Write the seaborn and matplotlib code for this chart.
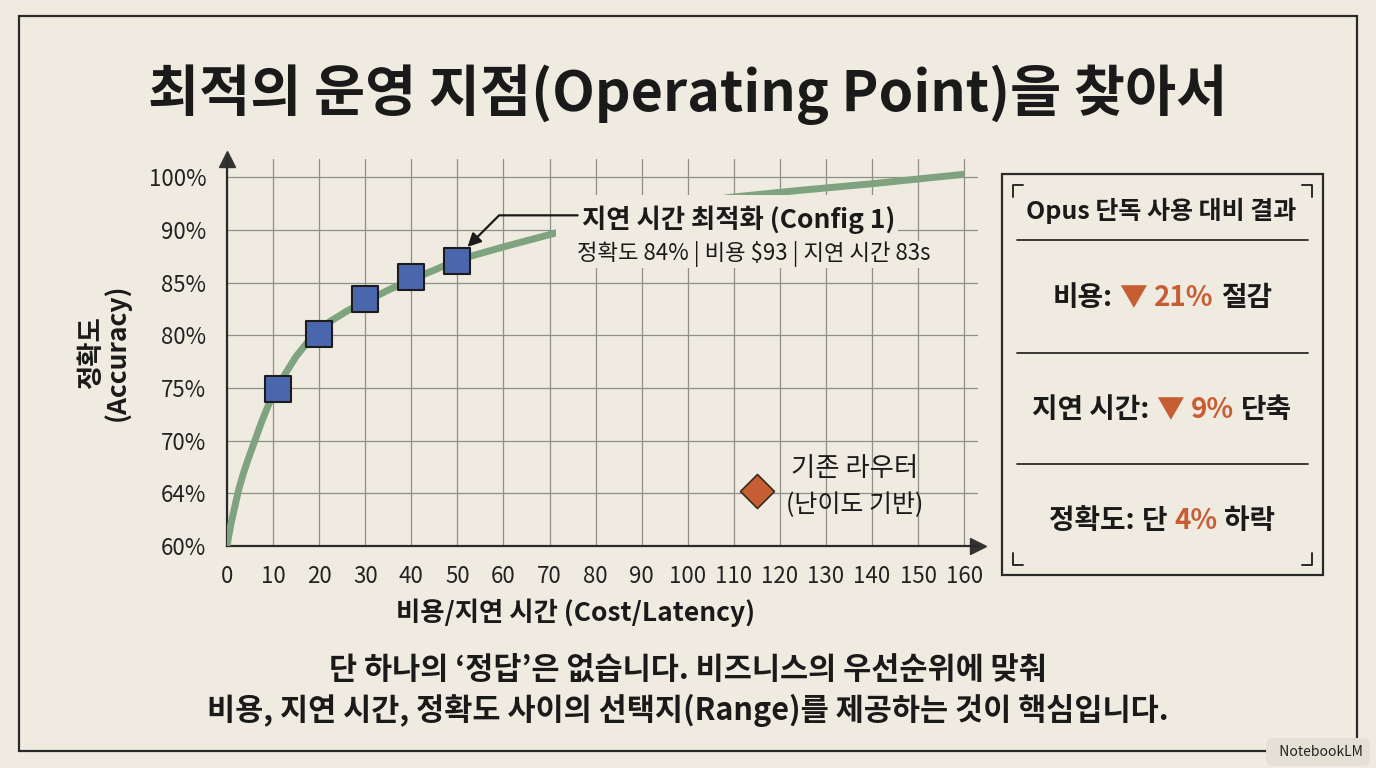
import numpy as np
import pandas as pd
import matplotlib
matplotlib.use("Agg")
import matplotlib.pyplot as plt
import seaborn as sns
from matplotlib.patches import Rectangle

# y axis in the picture is ordinal: equally spaced labels
acc_ticks = [60, 64, 70, 75, 80, 85, 90, 100]
acc_tick_labels = ['60%', '64%', '70%', '75%', '80%', '85%', '90%', '100%']
cost_ticks = list(range(0, 170, 10))

# frontier curve
curve_cost = [0, 0.8, 1.7, 2.6, 3.5, 4.6, 5.7, 7.6, 9.3, 11, 13, 15, 17.4, 20, 22.3, 26, 29.5, 35,
              39.7, 45, 49.9, 60, 72, 90, 109, 125, 140, 160]
curve_acc = [60, 61.6, 63.0, 64.55, 66.2, 67.9, 69.5, 71.9, 73.7, 75.2, 76.6, 78.0, 79.3, 80.5, 81.3,
             82.3, 83.1, 84.3, 85.25, 86.2, 87.15, 88.4, 89.8, 93.3, 96.2, 97.6, 98.8, 100.6]

# configs on the frontier
config_cost = [11, 20, 30, 40, 50]
config_acc = [74.9, 80.1, 83.5, 85.5, 87.1]

# existing router
router_cost = [115]
router_acc = [64.3]

BG = '#efebe0'
GREEN = '#80a37f'
BLUE = '#4a67ad'
ORANGE = '#c75e33'
DARK = '#1a1a1a'

sns.set_theme(style='white')
plt.rcParams['font.family'] = ['Noto Sans CJK KR', 'DejaVu Sans']
plt.rcParams['axes.unicode_minus'] = False

W, H = 1376, 768
fig = plt.figure(figsize=(W / 100, H / 100), dpi=100, facecolor=BG)


def px_rect(x0, y0, x1, y1):
    # rectangle from picture pixels (top-left origin) to figure fraction
    return (x0 / W, 1 - y1 / H), (x1 - x0) / W, (y1 - y0) / H


# outer frame
xy, w, h = px_rect(19, 16, 1357, 751)
fig.patches.append(Rectangle(xy, w, h, transform=fig.transFigure, fill=False, ec='#2a2a2a', lw=1.6))

fig.text(0.5, 1 - 95 / H, '최적의 운영 지점(Operating Point)을 찾아서', ha='center', va='center',
         fontsize=40, fontweight='bold', color=DARK)

ax = fig.add_axes([227 / W, 1 - 546 / H, (978 - 227) / W, (546 - 159) / H])
ax.set_facecolor(BG)

# ordinal-looking y scale built from the tick values
pos = np.arange(len(acc_ticks), dtype=float)
ext_vals = acc_ticks + [110]
ext_pos = list(pos) + [8.0]


def fwd(v):
    return np.interp(v, ext_vals, ext_pos)


def inv(p):
    return np.interp(p, ext_pos, ext_vals)


ax.set_yscale('function', functions=(fwd, inv))

df_curve = pd.DataFrame({'cost': curve_cost, 'acc': curve_acc})
sns.lineplot(data=df_curve, x='cost', y='acc', ax=ax, color=GREEN, lw=5, zorder=3,
             solid_capstyle='butt')

df_cfg = pd.DataFrame({'cost': config_cost, 'acc': config_acc})
sns.scatterplot(data=df_cfg, x='cost', y='acc', ax=ax, marker='s', s=330, color=BLUE,
                edgecolor='#1c1c1c', linewidth=1.5, zorder=5)

df_rt = pd.DataFrame({'cost': router_cost, 'acc': router_acc})
sns.scatterplot(data=df_rt, x='cost', y='acc', ax=ax, marker='D', s=300, color=ORANGE,
                edgecolor='#3a2a20', linewidth=1.2, zorder=5)

ax.set_xlim(0, 163)
ax.set_ylim(60, inv(7.35))
ax.set_xticks(cost_ticks)
ax.set_yticks(acc_ticks)
ax.set_yticklabels(acc_tick_labels)
ax.minorticks_off()
ax.grid(True, color='#8f8f8a', lw=0.9, zorder=0)
ax.tick_params(axis='y', length=0, labelsize=16, colors='#222222', pad=15)
ax.tick_params(axis='x', length=0, labelsize=16, colors='#222222', pad=14)

for s in ['top', 'right']:
    ax.spines[s].set_visible(False)
for s in ['left', 'bottom']:
    ax.spines[s].set_color('#2a2a2a')
    ax.spines[s].set_linewidth(1.6)
ax.plot(1, 0, '>', transform=ax.transAxes, color='#333333', ms=12, clip_on=False)
ax.plot(0, 1, '^', transform=ax.transAxes, color='#333333', ms=12, clip_on=False)

ax.set_xlabel('비용/지연 시간 (Cost/Latency)', fontsize=19, fontweight='bold', color=DARK)
ax.xaxis.set_label_coords((576 - 227) / (978 - 227), -0.135)
ax.set_ylabel('정확도\n(Accuracy)', fontsize=19, fontweight='bold', color=DARK, linespacing=0.9)
ax.yaxis.set_label_coords(-0.128, 0.5)

# callout backgrounds hide the curve and grid behind the text
for r in [(556, 195, 898, 241), (562, 241, 946, 268)]:
    xy, w, h = px_rect(*r)
    ax.add_patch(Rectangle(xy, w, h, transform=fig.transFigure, fc=BG, ec='none', zorder=4))

ax.annotate('', xy=(52.2, 88.4), xytext=(76.1, 92.8),
            arrowprops=dict(arrowstyle='-|>', color='#1a1a1a', lw=1.6, mutation_scale=20,
                            connectionstyle='angle,angleA=0,angleB=45,rad=0',
                            shrinkA=0, shrinkB=0), zorder=6)
ax.text(111.1, 91.9, '지연 시간 최적화 (Config 1)', ha='center', va='center', fontsize=19,
        fontweight='bold', color=DARK, zorder=6)
ax.text(114.3, 87.7, '정확도 84% | 비용 $93 | 지연 시간 83s', ha='center', va='center',
        fontsize=16, color=DARK, zorder=6)

ax.text(136.2, 66.8, '기존 라우터', ha='center', va='center', fontsize=19, color=DARK)
ax.text(136.2, 63.1, '(난이도 기반)', ha='center', va='center', fontsize=18, color=DARK)

# summary panel
xy, w, h = px_rect(1002, 174, 1323, 575)
fig.patches.append(Rectangle(xy, w, h, transform=fig.transFigure, fill=False, ec='#2a2a2a', lw=1.6))
for (x0, y0, dx, dy) in [(1013, 185, 1, 1), (1312, 185, -1, 1), (1013, 565, 1, -1), (1312, 565, -1, -1)]:
    fig.lines.append(plt.Line2D([(x0 + dx * 10) / W, x0 / W, x0 / W],
                                [1 - y0 / H, 1 - y0 / H, 1 - (y0 + dy * 12) / H],
                                transform=fig.transFigure, color='#2a2a2a', lw=1.4))
for yy in [240, 353, 464]:
    fig.lines.append(plt.Line2D([1017 / W, 1308 / W], [1 - yy / H, 1 - yy / H],
                                transform=fig.transFigure, color='#2a2a2a', lw=1.3))

fig.text(1161 / W, 1 - 211 / H, 'Opus 단독 사용 대비 결과', ha='center', va='center',
         fontsize=18, fontweight='bold', color=DARK)

renderer = fig.canvas.get_renderer()


def rich_row(y_px, parts, cx_px=1162, size=20, gap=7):
    texts = []
    for s, c in parts:
        t = fig.text(0, 1 - y_px / H, s, color=c, fontsize=size, fontweight='bold',
                     ha='left', va='center')
        texts.append(t)
    widths = [t.get_window_extent(renderer).width for t in texts]
    total = sum(widths) + gap * (len(texts) - 1)
    x = cx_px - total / 2
    for t, w in zip(texts, widths):
        t.set_x(x / W)
        x += w + gap


rich_row(298, [('비용:', DARK), ('▼', ORANGE), ('21%', ORANGE), ('절감', DARK)])
rich_row(410, [('지연 시간:', DARK), ('▼', ORANGE), ('9%', ORANGE), ('단축', DARK)])
rich_row(521, [('정확도:', DARK), ('단', DARK), ('4%', ORANGE), ('하락', DARK)])

fig.text(0.5, 1 - 670 / H, '단 하나의 ‘정답’은 없습니다. 비즈니스의 우선순위에 맞춰', ha='center',
         va='center', fontsize=22, fontweight='bold', color=DARK)
fig.text(0.5, 1 - 710 / H, '비용, 지연 시간, 정확도 사이의 선택지(Range)를 제공하는 것이 핵심입니다.',
         ha='center', va='center', fontsize=22, fontweight='bold', color=DARK)

fig.text(1318 / W, 1 - 752 / H, '  NotebookLM', ha='center', va='center', fontsize=10, color='#222222',
         bbox=dict(boxstyle='round,pad=0.5', fc='#e4e0d6', ec='none'))

fig.savefig('out.png', dpi=100, facecolor=BG)
